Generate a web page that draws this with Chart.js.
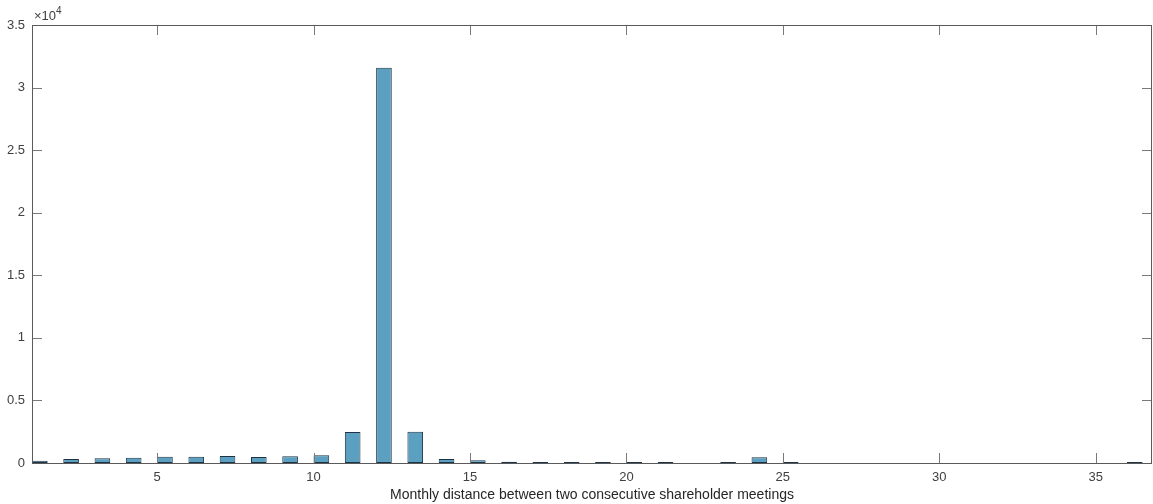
<!DOCTYPE html>
<html>
<head>
<meta charset="utf-8">
<script src="https://cdn.jsdelivr.net/npm/chart.js@4"></script>
<style>
  html, body { margin: 0; padding: 0; background: #fff; }
  #wrap { width: 1153px; height: 504px; }
</style>
</head>
<body>
<div id="wrap"><canvas id="histChart" width="1153" height="504"></canvas></div>
<script>
// months between meetings (bins with a count) and the counts
const bins = [1, 2, 3, 4, 5, 6, 7, 8, 9, 10, 11, 12, 13, 14, 15, 16, 17, 18, 19, 20, 21, 23, 24, 25, 36];
const counts = [170, 320, 370, 420, 500, 500, 560, 480, 530, 610, 2480, 31580, 2500, 320, 220, 100, 80, 80, 80, 20, 15, 60, 450, 20, 70];
const xTicks = [5, 10, 15, 20, 25, 30, 35];
const yTicks = [0, 5000, 10000, 15000, 20000, 25000, 30000, 35000];
const xTitle = 'Monthly distance between two consecutive shareholder meetings';

const axisColor = '#5a5a5a';
const textColor = '#404040';
const fontFamily = '"Liberation Sans", Arial, sans-serif';

// matlab style box with inward ticks + x10^4 exponent
const boxPlugin = {
  id: 'matlabBox',
  afterDatasetsDraw(chart) {
    const ctx = chart.ctx;
    const a = chart.chartArea;
    const xs = chart.scales.x;
    const ys = chart.scales.y;
    ctx.save();
    ctx.strokeStyle = '#7a7a7a';
    ctx.lineWidth = 1;
    ctx.beginPath();
    xTicks.forEach(v => {
      const px = Math.round(xs.getPixelForValue(v)) + 0.5;
      ctx.moveTo(px, a.bottom); ctx.lineTo(px, a.bottom - 10);
      ctx.moveTo(px, a.top); ctx.lineTo(px, a.top + 10);
    });
    yTicks.forEach(v => {
      const py = Math.round(ys.getPixelForValue(v)) + 0.5;
      ctx.moveTo(a.left, py); ctx.lineTo(a.left + 10, py);
      ctx.moveTo(a.right, py); ctx.lineTo(a.right - 10, py);
    });
    ctx.stroke();
    ctx.strokeStyle = axisColor;
    ctx.strokeRect(Math.round(a.left) + 0.5, Math.round(a.top) + 0.5,
      Math.round(a.right - a.left) - 1, Math.round(a.bottom - a.top));
    // exponent
    ctx.fillStyle = textColor;
    ctx.textBaseline = 'alphabetic';
    ctx.font = '13px ' + fontFamily;
    ctx.fillText('\u00d710', a.left + 2, a.top - 5);
    const w = ctx.measureText('\u00d710').width;
    ctx.font = '10px ' + fontFamily;
    ctx.fillText('4', a.left + 2 + w, a.top - 11);
    ctx.restore();
  }
};

const ctx = document.getElementById('histChart').getContext('2d');
new Chart(ctx, {
  type: 'bar',
  data: {
    datasets: [{
      data: bins.map((b, i) => ({ x: b + 0.25, y: counts[i] })),
      backgroundColor: '#5b9fc1',
      borderColor: '#1e3446',
      borderWidth: 1,
      borderSkipped: false,
      minBarLength: 1,
      barPercentage: 0.5,
      categoryPercentage: 1.0
    }]
  },
  plugins: [boxPlugin],
  options: {
    responsive: false,
    animation: false,
    layout: { padding: { left: 0, right: 1, top: 25, bottom: 0 } },
    plugins: { legend: { display: false }, tooltip: { enabled: false } },
    scales: {
      x: {
        type: 'linear',
        offset: false,
        bounds: 'ticks',
        min: 1,
        max: 36.8,
        afterBuildTicks: scale => { scale.ticks = xTicks.map(v => ({ value: v })); },
        afterFit: scale => { scale.height = 41; },
        grid: { display: false, drawTicks: false },
        border: { display: false },
        ticks: {
          maxRotation: 0,
          padding: 7,
          color: textColor,
          font: { family: fontFamily, size: 13 }
        },
        title: {
          display: true,
          text: xTitle,
          color: '#262626',
          padding: { top: 2, bottom: 0 },
          font: { family: fontFamily, size: 14 }
        }
      },
      y: {
        min: 0,
        max: 35000,
        afterBuildTicks: scale => { scale.ticks = yTicks.map(v => ({ value: v })); },
        afterFit: scale => { scale.width = 32; },
        grid: { display: false, drawTicks: false },
        border: { display: false },
        ticks: {
          padding: 7,
          color: textColor,
          font: { family: fontFamily, size: 13 },
          callback: v => String(v / 10000)
        }
      }
    }
  }
});
</script>
</body>
</html>
